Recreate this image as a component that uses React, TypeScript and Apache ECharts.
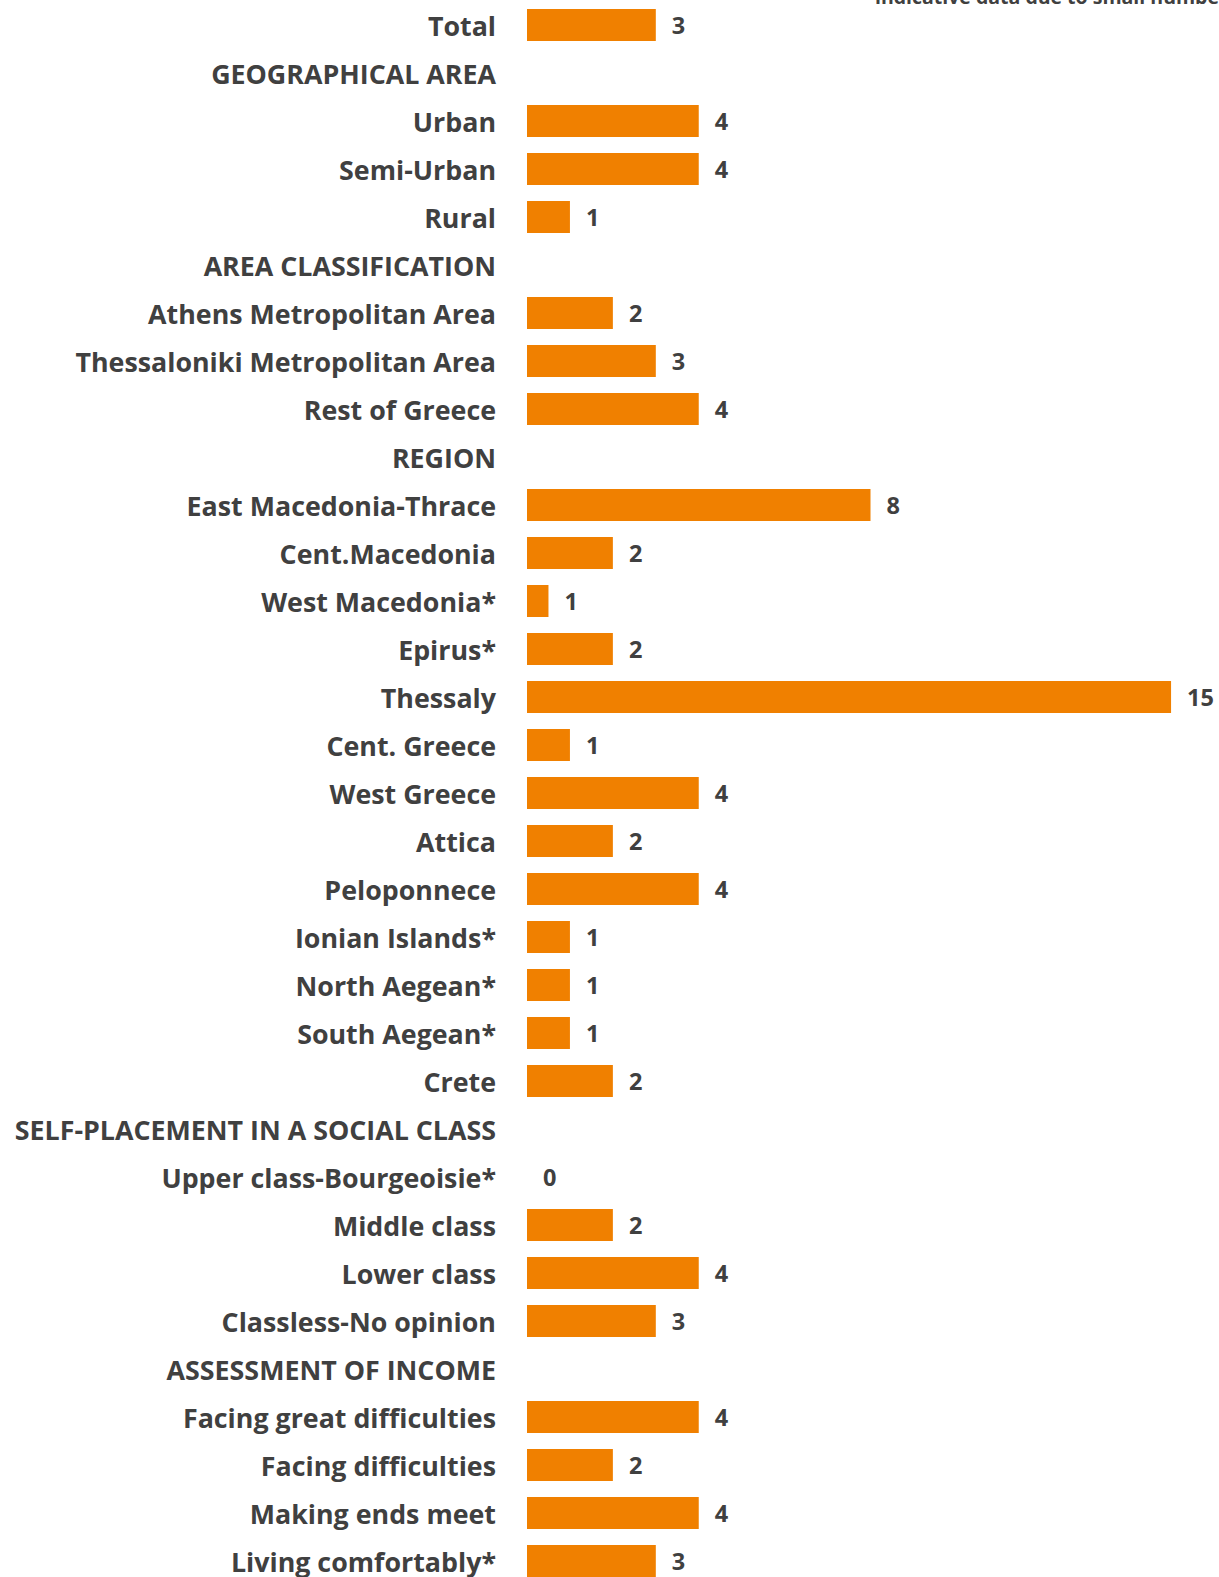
import React, { useEffect, useRef } from "react";
import * as echarts from "echarts";

const categories = [
  "Total",
  "GEOGRAPHICAL AREA",
  "Urban",
  "Semi-Urban",
  "Rural",
  "AREA CLASSIFICATION",
  "Athens Metropolitan Area",
  "Thessaloniki Metropolitan Area",
  "Rest of Greece",
  "REGION",
  "East Macedonia-Thrace",
  "Cent.Macedonia",
  "West Macedonia*",
  "Epirus*",
  "Thessaly",
  "Cent. Greece",
  "West Greece",
  "Attica",
  "Peloponnece",
  "Ionian Islands*",
  "North Aegean*",
  "South Aegean*",
  "Crete",
  "SELF-PLACEMENT IN A SOCIAL CLASS",
  "Upper class-Bourgeoisie*",
  "Middle class",
  "Lower class",
  "Classless-No opinion",
  "ASSESSMENT OF INCOME",
  "Facing great difficulties",
  "Facing difficulties",
  "Making ends meet",
  "Living comfortably*",
];

const values: (number | string)[] = [
  3, "-", 4, 4, 1, "-", 2, 3, 4, "-", 8, 2, 0.5, 2, 15, 1, 4, 2, 4, 1, 1, 1, 2,
  "-", 0, 2, 4, 3, "-", 4, 2, 4, 3,
];

const noteText = "indicative data due to small numbers";

export default function App() {
  const ref = useRef<HTMLDivElement>(null);
  useEffect(() => {
    if (!ref.current) return;
    const chart = echarts.init(ref.current, undefined, { renderer: "svg" });
    const font = "'Open Sans', sans-serif";
    chart.setOption({
      animation: false,
      grid: { left: 527, top: 1, width: 687, height: 1584, containLabel: false },
      xAxis: {
        type: "value",
        min: 0,
        max: 16,
        show: false,
      },
      yAxis: {
        type: "category",
        inverse: true,
        data: categories,
        axisLine: { show: false },
        axisTick: { show: false },
        splitLine: { show: false },
        axisLabel: {
          margin: 31,
          color: "#404040",
          fontWeight: "bold",
          fontSize: 26.8,
          fontFamily: font,
        },
      },
      series: [
        {
          type: "bar",
          data: values,
          barCategoryGap: "33%",
          itemStyle: { color: "#F08000" },
          label: {
            show: true,
            position: "right",
            distance: 16,
            color: "#404040",
            fontWeight: "bold",
            fontSize: 23.5,
            fontFamily: font,
            formatter: (p: any) => String(Math.round(p.value)),
          },
        },
      ],
      graphic: [
        {
          type: "text",
          x: 875,
          y: 6,
          style: {
            text: noteText,
            fill: "#404040",
            font: `bold 19.5px ${font}`,
            verticalAlign: "bottom",
          },
        },
      ],
    });
    return () => chart.dispose();
  }, []);
  return (
    <div
      ref={ref}
      style={{ position: "absolute", left: 0, top: 0, width: 1219, height: 1600 }}
    />
  );
}
